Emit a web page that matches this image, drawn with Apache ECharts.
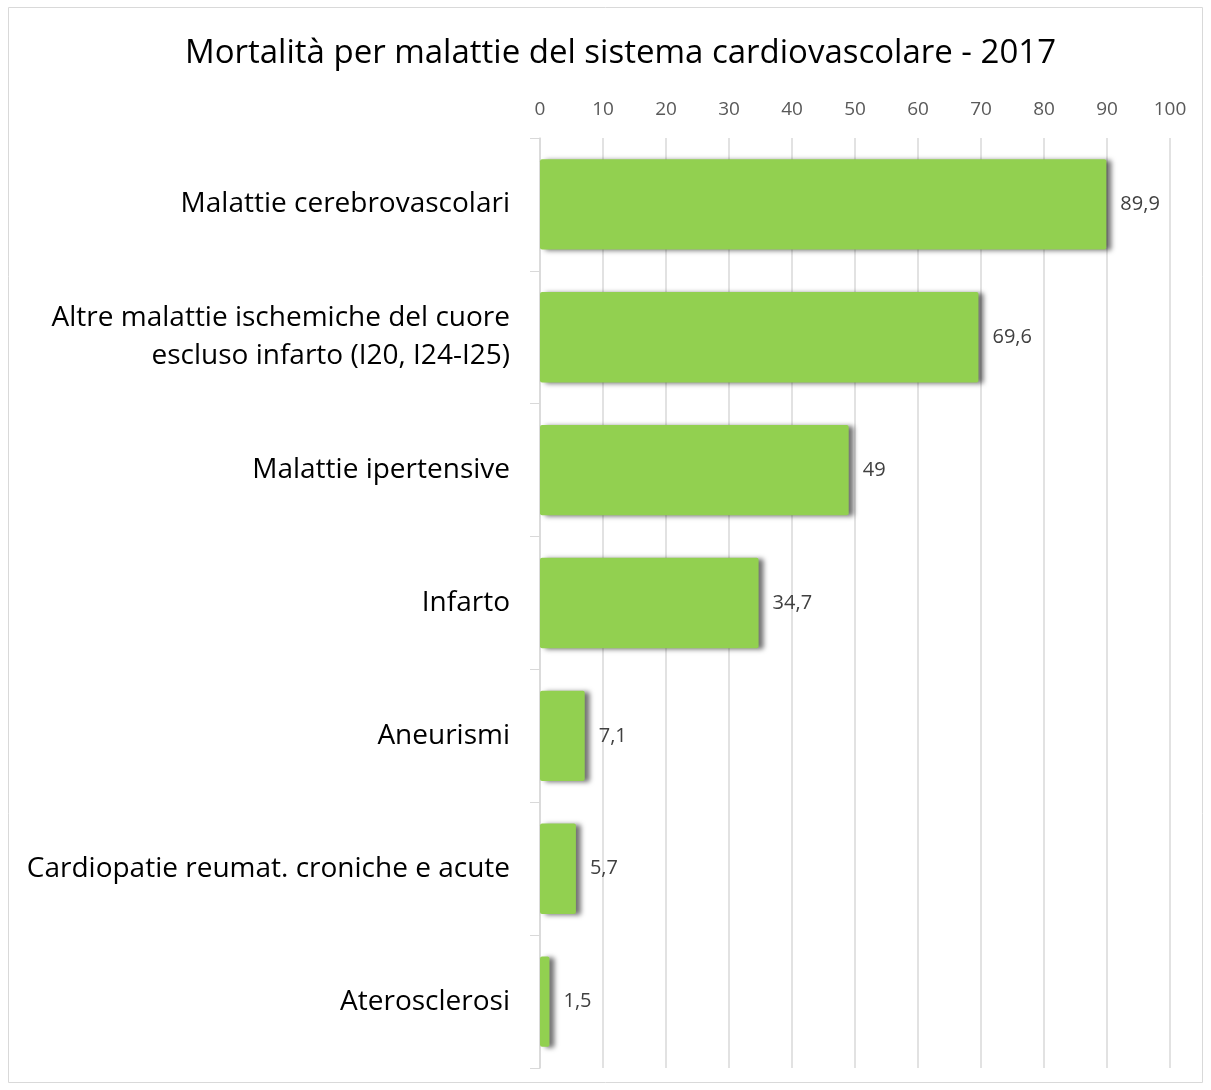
<!DOCTYPE html>
<html><head><meta charset="utf-8">
<script src="https://cdn.jsdelivr.net/npm/echarts@6/dist/echarts.min.js"></script>
<style>html,body{margin:0;padding:0;background:#fff}#c{width:1211px;height:1090px}</style>
</head><body><div id="c"></div>
<script>
var titleText = 'Mortalità per malattie del sistema cardiovascolare - 2017';
var categories = ['Malattie cerebrovascolari','Altre malattie ischemiche del cuore\nescluso infarto (I20, I24-I25)','Malattie ipertensive','Infarto','Aneurismi','Cardiopatie reumat. croniche e acute','Aterosclerosi'];
var values = [89.9, 69.6, 49, 34.7, 7.1, 5.7, 1.5];
var axisMin = 0, axisMax = 100, axisStep = 10;

var chart = echarts.init(document.getElementById('c'));
var FONT = 'Open Sans';
chart.setOption({
  animation: false,
  graphic: [{type:'rect', shape:{x:8.5,y:7.5,width:1194,height:1075}, style:{fill:'none', stroke:'#d9d9d9', lineWidth:1}}],
  title: {text: titleText, left: 180, top: 32, textStyle:{fontFamily:FONT, fontWeight:'normal', fontSize:33, color:'#000'}},
  grid: {left: 540, right: 41, top: 138, bottom: 22, containLabel:false},
  xAxis: {type:'value', position:'top', min:axisMin, max:axisMax, interval:axisStep,
    axisLine:{show:false}, axisTick:{show:false},
    axisLabel:{fontFamily:FONT, fontSize:19, color:'#595959', margin:19},
    splitLine:{lineStyle:{color:'#d9d9d9', width:1.5}}},
  yAxis: {type:'category', inverse:true, data:categories,
    axisLine:{lineStyle:{color:'#d9d9d9', width:1.5}},
    axisTick:{show:true, length:10, lineStyle:{color:'#d9d9d9'}},
    axisLabel:{fontFamily:FONT, fontSize:28, color:'#000', margin:30, lineHeight:38}},
  series: [{type:'bar', data:values, barCategoryGap:'32%',
    itemStyle:{color:'#92D050', borderRadius:2, shadowColor:'rgba(0,0,0,0.55)', shadowBlur:5, shadowOffsetX:5, shadowOffsetY:1},
    label:{show:true, position:'right', distance:14, fontFamily:FONT, fontSize:20, color:'#404040',
      formatter:function(p){return String(p.value).replace('.', ',');}}
  }]
});
</script></body></html>
